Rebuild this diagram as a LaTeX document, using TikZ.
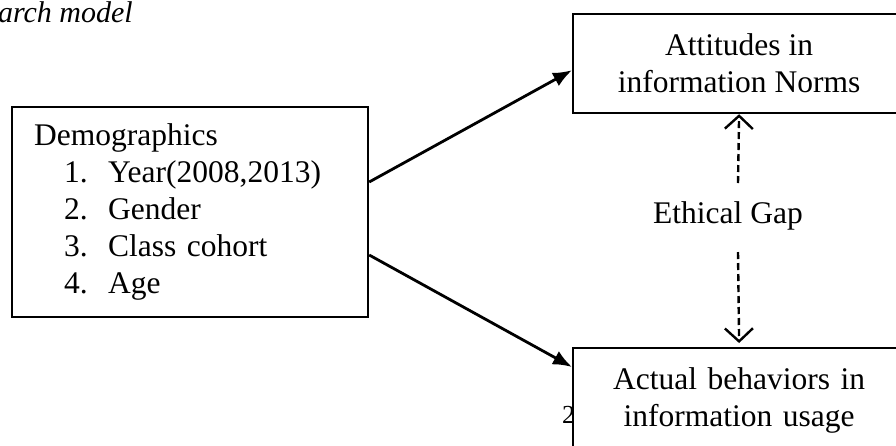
\documentclass[tikz,border=0pt]{standalone}
\usepackage{fontspec}
\setmainfont{Liberation Serif}
\usetikzlibrary{arrows.meta,calc}
\begin{document}
\begin{tikzpicture}[x=1pt,y=-1pt,
  bigfont/.style={font=\fontsize{31.5pt}{37pt}\selectfont},
  boxstyle/.style={draw=black,line width=2.2pt,fill=white,bigfont,align=center},
  solidarrow/.style={line width=2.8pt,-{Latex[length=19pt,width=15pt]}},
  gaparrow/.style={line width=2.4pt,dash pattern=on 7pt off 4pt,-{Straight Barb[length=13pt,width=28pt,line width=2.4pt]}}
]
\useasboundingbox (0,0) rectangle (896,445);
\clip (0,0) rectangle (896,445);
\node[anchor=base east,font=\fontsize{30pt}{36pt}\selectfont\itshape,inner sep=0pt] (title) at (133,22) {arch model};
\node[anchor=base west,font=\fontsize{26pt}{30pt}\selectfont,inner sep=0pt] (pagenum) at (562,423) {2};
\node[boxstyle,anchor=north west,minimum width=332pt,minimum height=99pt,inner sep=0pt] (att) at (572,13) {Attitudes in\\information Norms};
\node[boxstyle,anchor=north west,text width=332pt,inner xsep=0pt,inner ysep=19.5pt] (bot) at (572,347) {Actual behaviors in\\information usage};
\node[draw=black,line width=2.2pt,bigfont,anchor=north west,text width=312pt,inner xsep=22pt,inner ysep=0pt,minimum height=210pt,align=left] (demo) at (11,106) {%
\begin{tabular}{@{}p{74pt}@{}l@{}}
\multicolumn{2}{@{}l@{}}{Demographics}\\
\hspace*{30pt}1. & Year(2008,2013)\\
\hspace*{30pt}2. & Gender\\
\hspace*{30pt}3. & Class cohort\\
\hspace*{30pt}4. & Age
\end{tabular}};
\node[bigfont,anchor=base,inner sep=0pt] (gap) at (728,223) {Ethical Gap};
\coordinate (g1) at (738,183);
\coordinate (g2) at (738,252);
\draw[solidarrow] ($(demo.north east)+(0,76)$) -- ($(att.south west)+(0,-44)$);
\draw[solidarrow] ($(demo.north east)+(0,149)$) -- ($(bot.north west)+(0,20)$);
\draw[gaparrow] (g1) -- (att.south);
\draw[gaparrow] (g2) -- ($(bot.north)+(0,-4)$);
\end{tikzpicture}
\end{document}
